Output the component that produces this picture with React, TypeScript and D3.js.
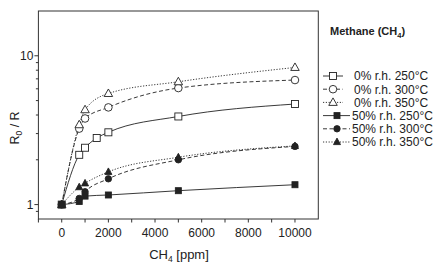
import React from "react";
import * as d3 from "d3";

const xOpen = [0, 750, 1000, 1500, 2000, 5000, 10000];
const xStd = [0, 750, 1000, 2000, 5000, 10000];

const dry250 = [1.0, 2.16, 2.41, 2.8, 3.06, 3.91, 4.74];
const dry300 = [1.0, 3.24, 3.79, 4.5, 6.07, 6.87];
const dry350 = [1.0, 3.44, 4.34, 5.58, 6.69, 8.35];
const wet250 = [1.0, 1.05, 1.14, 1.16, 1.24, 1.36];
const wet300 = [1.0, 1.1, 1.22, 1.49, 2.0, 2.46];
const wet350 = [1.0, 1.31, 1.39, 1.66, 2.08, 2.48];

const seriesNames = [
  "0% r.h. 250°C",
  "0% r.h. 300°C",
  "0% r.h. 350°C",
  "50% r.h. 250°C",
  "50% r.h. 300°C",
  "50% r.h. 350°C",
];

const xTicks = [-1000, 0, 1000, 2000, 3000, 4000, 5000, 6000, 7000, 8000, 9000, 10000];
const xTickLabels = [0, 2000, 4000, 6000, 8000, 10000];
const yMajor = [1, 10];
const yMinor = [0.9, 2, 3, 4, 5, 6, 7, 8, 9];

const FONT = "Liberation Sans, Arial, Helvetica, sans-serif";
const INK = "#222";

type Sym = "square" | "circle" | "triangle";

function Marker({ x, y, sym, filled }: { x: number; y: number; sym: Sym; filled: boolean }) {
  const fill = filled ? INK : "#fff";
  const sw = 0.9;
  if (sym === "square") {
    const s = filled ? 6 : 7;
    return <rect x={x - s / 2} y={y - s / 2} width={s} height={s} fill={fill} stroke={INK} strokeWidth={sw} />;
  }
  if (sym === "circle") {
    const r = filled ? 3.2 : 3.8;
    return <circle cx={x} cy={y} r={r} fill={fill} stroke={INK} strokeWidth={sw} />;
  }
  const h = filled ? 6.5 : 7.5;
  const w = filled ? 7 : 8.5;
  const pts = `${x},${y - h * 0.6} ${x - w / 2},${y + h * 0.4} ${x + w / 2},${y + h * 0.4}`;
  return <polygon points={pts} fill={fill} stroke={INK} strokeWidth={sw} strokeLinejoin="miter" />;
}

export default function App() {
  const W = 440;
  const H = 266;
  const left = 38.4;
  const right = 318.3;
  const top = 11;
  const bottom = 219;

  const x = d3.scaleLinear().domain([-1000, 11000]).range([left, right]);
  const y = d3.scaleLog().domain([0.8, 20]).range([bottom, top]);

  const dashes = [null, "4,2.5", "1.2,1.6", null, "4,2.5", "1.2,1.6"];
  const syms: Sym[] = ["square", "circle", "triangle", "square", "circle", "triangle"];
  const filled = [false, false, false, true, true, true];
  const data = [
    { xs: xOpen, ys: dry250 },
    { xs: xStd, ys: dry300 },
    { xs: xStd, ys: dry350 },
    { xs: xStd, ys: wet250 },
    { xs: xStd, ys: wet300 },
    { xs: xStd, ys: wet350 },
  ];

  const line = d3
    .line<[number, number]>()
    .x((d) => x(d[0]))
    .y((d) => y(d[1]))
    .curve(d3.curveMonotoneX);

  const legendRows = [76, 89.2, 102.4, 115.6, 128.8, 142];

  return (
    <svg width={W} height={H} style={{ display: "block", position: "absolute", left: 0, top: 0 }}>
      <rect x={0} y={0} width={W} height={H} fill="#fff" />
      {/* frame */}
      <rect x={left} y={top} width={right - left} height={bottom - top} fill="none" stroke="#333" strokeWidth={1} />

      {/* x ticks */}
      {xTicks.map((t) => (
        <line key={"xt" + t} x1={x(t)} x2={x(t)} y1={bottom} y2={bottom + 3.5} stroke="#333" strokeWidth={1} />
      ))}
      {xTickLabels.map((t) => (
        <text key={"xl" + t} x={x(t)} y={236.5} textAnchor="middle" fontFamily={FONT} fontSize={12} fill={INK}>
          {t}
        </text>
      ))}

      {/* y ticks */}
      {yMajor.map((t) => (
        <g key={"ym" + t}>
          <line x1={left - 4} x2={left} y1={y(t)} y2={y(t)} stroke="#333" strokeWidth={1} />
          <text x={left - 5} y={y(t) + 4.3} textAnchor="end" fontFamily={FONT} fontSize={12} fill={INK}>
            {t}
          </text>
        </g>
      ))}
      {yMinor.map((t) => (
        <line key={"yn" + t} x1={left - 2.5} x2={left} y1={y(t)} y2={y(t)} stroke="#333" strokeWidth={1} />
      ))}

      {/* axis labels */}
      <text x={179} y={259} textAnchor="middle" fontFamily={FONT} fontSize={13} fill={INK}>
        CH<tspan fontSize={8.5} dy={3}>4</tspan>
        <tspan dy={-3}> [ppm]</tspan>
      </text>
      <text transform={`translate(19,128) rotate(-90)`} textAnchor="middle" fontFamily={FONT} fontSize={12.5} fill={INK}>
        R<tspan fontSize={8.5} dy={3}>0</tspan>
        <tspan dy={-3}> / R</tspan>
      </text>

      {/* lines */}
      {data.map((s, i) => (
        <path
          key={"l" + i}
          d={line(s.xs.map((v, j) => [v, s.ys[j]] as [number, number])) || ""}
          fill="none"
          stroke={INK}
          strokeWidth={0.9}
          strokeDasharray={dashes[i] || undefined}
        />
      ))}
      {/* markers */}
      {data.map((s, i) =>
        s.xs.map((v, j) => (
          <Marker key={"m" + i + "-" + j} x={x(v)} y={y(s.ys[j])} sym={syms[i]} filled={filled[i]} />
        ))
      )}

      {/* legend */}
      <text x={330} y={35} fontFamily={FONT} fontSize={11} fontWeight="bold" fill={INK}>
        Methane (CH<tspan fontSize={7.5} dy={2.5}>4</tspan>
        <tspan dy={-2.5}>)</tspan>
      </text>
      {seriesNames.map((name, i) => {
        const yy = legendRows[i];
        const wet = filled[i];
        const x1 = 323;
        const x2 = wet ? 350 : 343;
        const cx = wet ? 337 : 333;
        return (
          <g key={"lg" + i}>
            <line x1={x1} x2={x2} y1={yy} y2={yy} stroke={INK} strokeWidth={0.9} strokeDasharray={dashes[i] || undefined} />
            <Marker x={cx} y={yy} sym={syms[i]} filled={wet} />
            <text x={wet ? 352 : 354} y={yy + 4.3} fontFamily={FONT} fontSize={12} fill={INK}>
              {name}
            </text>
          </g>
        );
      })}
    </svg>
  );
}
